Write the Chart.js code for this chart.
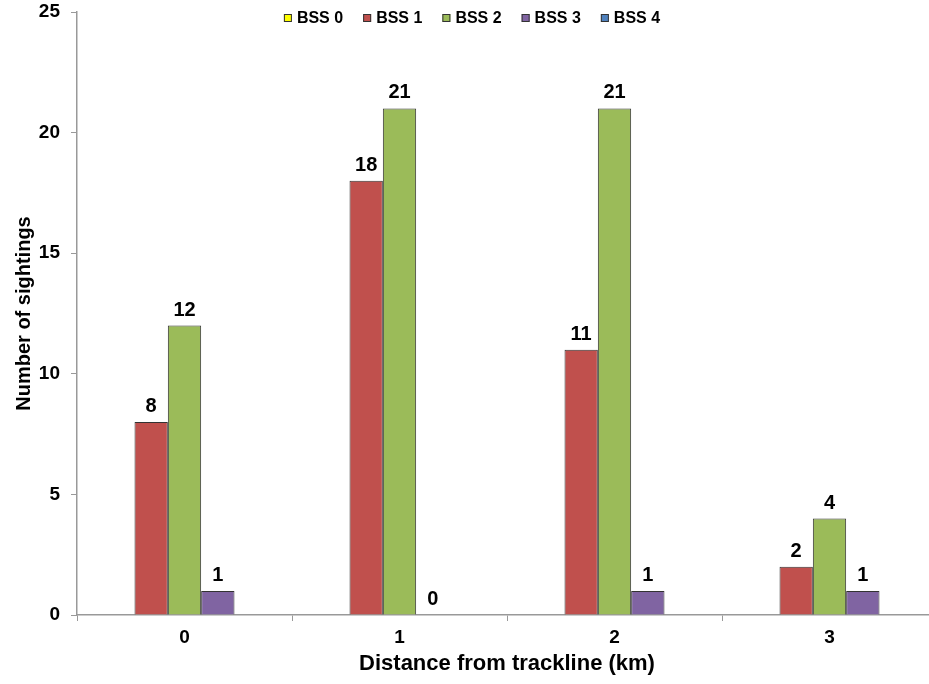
<!DOCTYPE html>
<html>
<head>
<meta charset="utf-8">
<script src="https://cdn.jsdelivr.net/npm/chart.js@4/dist/chart.umd.min.js"></script>
<style>
  html, body { margin: 0; padding: 0; background: #fff; overflow: hidden; }
  #wrap { width: 929px; height: 684px; overflow: hidden; }
</style>
</head>
<body>
<div id="wrap"><canvas id="grafica" width="940" height="684"></canvas></div>
<script>
// datos
const distancias = ["0", "1", "2", "3"];
const bss0 = [null, null, null, null];
const bss1 = [8, 18, 11, 2];
const bss2 = [12, 21, 21, 4];
const bss3 = [1, 0, 1, 1];
const bss4 = [null, null, null, null];
const nombres = ["BSS 0", "BSS 1", "BSS 2", "BSS 3", "BSS 4"];
const colores = ["#FFFF00", "#C0504D", "#9BBB59", "#8064A2", "#4F81BD"];
const yTicks = [0, 5, 10, 15, 20, 25];

const fuente = "'Liberation Sans', Arial, sans-serif";
const series = [bss0, bss1, bss2, bss3, bss4];

// etiquetas encima de cada barra
const etiquetas = {
    id: "etiquetas",
    afterDatasetsDraw(chart) {
        let ctx = chart.ctx;
        ctx.save();
        ctx.font = "bold 20px " + fuente;
        ctx.fillStyle = "#000";
        ctx.textAlign = "center";
        ctx.textBaseline = "alphabetic";
        chart.data.datasets.forEach((ds, i) => {
            chart.getDatasetMeta(i).data.forEach((bar, j) => {
                let v = ds.data[j];
                if (v === null || v === undefined) return;
                ctx.fillText(String(v), bar.x, bar.y - 10);
            });
        });
        ctx.restore();
    }
};

// leyenda propia arriba, dentro del area
const leyenda = {
    id: "leyenda",
    afterDraw(chart) {
        let ctx = chart.ctx;
        ctx.save();
        ctx.font = "bold 16px " + fuente;
        let caja = 8, sep = 5, hueco = 20;
        let anchos = chart.data.datasets.map(ds => caja + sep + ctx.measureText(ds.label).width);
        let total = anchos.reduce((a, b) => a + b, 0) + hueco * (anchos.length - 1);
        let x = 472 - total / 2;
        let y = 18;
        chart.data.datasets.forEach((ds, i) => {
            ctx.fillStyle = ds.backgroundColor;
            ctx.fillRect(x, y - caja / 2, caja, caja);
            ctx.strokeStyle = "#333";
            ctx.lineWidth = 1;
            ctx.strokeRect(x + 0.5, y - caja / 2 + 0.5, caja - 1, caja - 1);
            ctx.fillStyle = "#000";
            ctx.textBaseline = "middle";
            ctx.textAlign = "left";
            ctx.fillText(ds.label, x + caja + sep, y + 1);
            x += anchos[i] + hueco;
        });
        ctx.restore();
    }
};

new Chart(document.getElementById("grafica"), {
    type: "bar",
    data: {
        labels: distancias,
        datasets: series.map((d, i) => ({
            label: nombres[i],
            data: d,
            backgroundColor: colores[i],
            borderColor: "#333",
            borderWidth: 1,
            categoryPercentage: 0.775,
            barPercentage: 1.0
        }))
    },
    options: {
        responsive: false,
        animation: false,
        layout: { padding: { top: 12, right: 3, left: 0, bottom: 0 } },
        plugins: {
            legend: { display: false },
            tooltip: { enabled: false }
        },
        scales: {
            x: {
                grid: { display: true, drawOnChartArea: false, drawTicks: true, tickLength: 6, color: "#999", offset: true },
                border: { color: "#999", width: 1.5 },
                ticks: { color: "#000", font: { family: fuente, size: 19, weight: "bold" }, padding: 5 },
                title: { display: true, text: "Distance from trackline (km)", color: "#000",
                         font: { family: fuente, size: 22, weight: "bold" }, padding: { top: 7, bottom: 7 } },
                afterFit(scale) { scale.height = 69; }
            },
            y: {
                min: 0,
                max: 25,
                afterBuildTicks(scale) { scale.ticks = yTicks.map(v => ({ value: v })); },
                grid: { display: true, drawOnChartArea: false, drawTicks: true, tickLength: 6, color: "#999" },
                border: { color: "#999", width: 1.5 },
                ticks: { color: "#000", font: { family: fuente, size: 19, weight: "bold" }, padding: 11 },
                title: { display: true, text: "Number of sightings", color: "#000",
                         font: { family: fuente, size: 20, weight: "bold" }, padding: { top: 12, bottom: 12 } },
                afterFit(scale) {
                    scale.width = 77;
                    scale.paddingTop = 0;
                    scale.paddingBottom = 0;
                }
            }
        }
    },
    plugins: [etiquetas, leyenda]
});
</script>
</body>
</html>
